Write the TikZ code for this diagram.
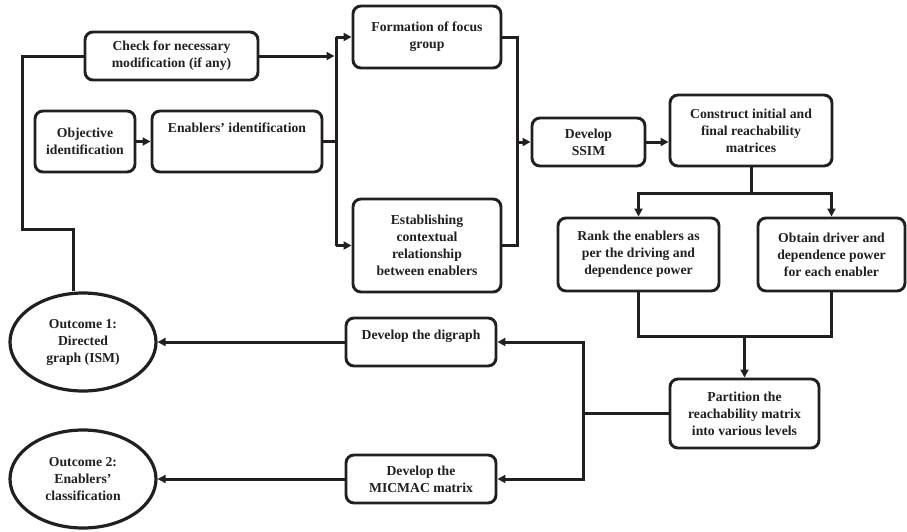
\documentclass[tikz,border=0pt]{standalone}
\usepackage{fontspec}
\setmainfont{Liberation Serif}
\usetikzlibrary{arrows.meta,shapes.geometric}
\definecolor{ink}{HTML}{231F20}
\begin{document}
\begin{tikzpicture}[x=1pt,y=-1pt,
  txt/.style={font=\fontsize{13.7}{17}\selectfont\bfseries, text=ink, align=center},
  box/.style={txt, draw=ink, rounded corners=8pt, line width=2.9pt, inner sep=1pt},
  oval/.style={txt, draw=ink, ellipse, line width=3.2pt, inner sep=0pt, minimum width=146pt, minimum height=98pt},
  conn/.style={draw=ink, line width=3pt},
  arr/.style={conn, -{Triangle[length=8pt,width=8pt]}},
]
\useasboundingbox (0,0) rectangle (907,531);

\node[box, minimum width=173pt, minimum height=48pt] (check) at (171.5,56) {Check for necessary\\modification (if any)};
\node[box, minimum width=100pt, minimum height=61pt] (obj) at (85,141.5) {Objective\\identification};
\node[box, minimum width=170pt, minimum height=61pt, text height=10pt, text depth=28pt] (enab) at (237,141.5) {Enablers’ identification};
\node[box, minimum width=148pt, minimum height=62pt] (form) at (427,37) {Formation of focus\\group};
\node[box, minimum width=148pt, minimum height=93pt] (estab) at (427,245.5) {Establishing\\contextual\\relationship\\between enablers};
\node[box, minimum width=113pt, minimum height=48pt] (ssim) at (588.5,142) {Develop\\SSIM};
\node[box, minimum width=162pt, minimum height=71pt] (cons) at (751,130.5) {Construct initial and\\final reachability\\matrices};
\node[box, minimum width=161pt, minimum height=73pt] (rank) at (638.5,254.5) {Rank the enablers as\\per the driving and\\dependence power};
\node[box, minimum width=147pt, minimum height=73pt] (obt) at (831.5,254.5) {Obtain driver and\\dependence power\\for each enabler};
\node[box, minimum width=149pt, minimum height=69pt] (part) at (744.5,413.5) {Partition the\\reachability matrix\\into various levels};
\node[box, minimum width=150pt, minimum height=48pt, text height=10pt, text depth=15pt] (dig) at (421,342) {Develop the digraph};
\node[box, minimum width=150pt, minimum height=48pt] (mic) at (421,479) {Develop the\\MICMAC matrix};
\node[oval] (out1) at (83,342) {Outcome 1:\\Directed\\graph (ISM)};
\node[oval] (out2) at (83,479) {Outcome 2:\\Enablers’\\classification};

\coordinate (bl1) at (336,37);
\coordinate (bl2) at (336,245.5);
\coordinate (ck) at (334.5,56);
\coordinate (br1) at (517,37);
\coordinate (br2) at (517,245.5);
\coordinate (cj) at (751,193);
\coordinate (mj) at (744.5,336);
\coordinate (pj) at (583,413.5);
\coordinate (fb1) at (73,229);
\coordinate (fb2) at (22,229);
\coordinate (fb3) at (22,56);

\draw[arr] (obj) -- (enab);
\draw[conn] (enab.east) -- (enab.east -| bl1);
\draw[conn] (bl1) -- (bl2);
\draw[arr] (bl1) -- (form.west);
\draw[arr] (bl2) -- (estab.west);
\draw[arr] (check.east) -- (ck);
\draw[conn] (form.east) -- (br1) -- (br2) -- (estab.east);
\draw[arr] (br1 |- ssim.west) -- (ssim.west);
\draw[arr] (ssim.east) -- (ssim.east -| cons.west);
\draw[conn] (cons.south) -- (cj);
\draw[arr] (cj) -| (rank.north);
\draw[arr] (cj) -| (obt.north);
\draw[conn] (rank.south) |- (mj);
\draw[conn] (obt.south) |- (mj);
\draw[arr] (mj) -- (part.north);
\draw[conn] (part.west) -- (pj);
\draw[arr] (pj) |- (dig.east);
\draw[arr] (pj) |- (mic.east);
\draw[arr] (dig) -- (out1);
\draw[arr] (mic) -- (out2);
\draw[conn] (fb1 |- out1.north) -- (fb1) -- (fb2) -- (fb3) -- (check.west);
\end{tikzpicture}
\end{document}
